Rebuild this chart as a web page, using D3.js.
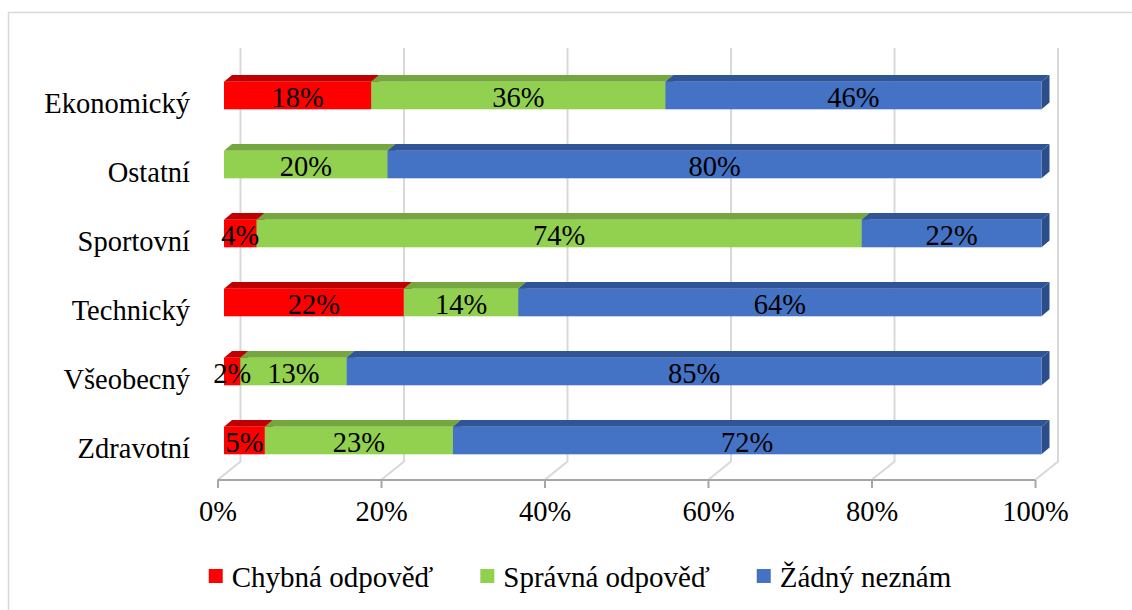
<!DOCTYPE html>
<html>
<head>
<meta charset="utf-8">
<script src="https://cdn.jsdelivr.net/npm/d3@7"></script>
<style>
  html, body { margin: 0; padding: 0; background: #ffffff; }
  svg { display: block; }
</style>
</head>
<body>
<svg id="chart" width="1132" height="610"></svg>
<script>
// Categories (top to bottom) and the three answer shares in percent
const categories = ["Ekonomický", "Ostatní", "Sportovní", "Technický", "Všeobecný", "Zdravotní"];
const seriesNames = ["Chybná odpověď", "Správná odpověď", "Žádný neznám"];
const chybna  = [18, 0, 4, 22, 2, 5];
const spravna = [36, 20, 74, 14, 13, 23];
const zadny   = [46, 80, 22, 64, 85, 72];
const tickValues = [0, 20, 40, 60, 80, 100];

// Face colours per series: front, top, right side
const frontColors = ["#ff0000", "#92d050", "#4472c4"];
const topColors   = ["#c00000", "#76a640", "#2f5597"];
const sideColors  = ["#a80000", "#658f36", "#2b4d8a"];

const FONT = "'Liberation Serif', 'Times New Roman', 'DejaVu Serif', serif";

const svg = d3.select("#chart").style("font-family", FONT);
const W = 1132, H = 610;

// Outer chart frame
svg.append("rect")
  .attr("x", 8.5).attr("y", 12.5)
  .attr("width", W + 20).attr("height", H + 20)
  .attr("fill", "#fff").attr("stroke", "#d9d9d9").attr("stroke-width", 1.5);

// Projection: front floor plane, back wall, and bar slab depth
const wallDX = 23, wallDY = -18.5;      // full depth of the plot box
const barDX0 = 6.5, barDY0 = -5.2;      // bar front face offset from the front plane
const barDX = 8, barDY = -6.7;          // bar thickness in depth
const floorY = 480, wallTop = 48;

const x = d3.scaleLinear().domain([0, 100]).range([217.5, 1035]);
const y = d3.scaleBand().domain(categories).range([66.2, 480.2]).paddingInner(0.6).paddingOuter(0.3);

// Back wall gridlines with floor diagonals
const grid = svg.append("g");
tickValues.forEach(t => {
  const fx = x(t), bx = fx + wallDX, by = floorY + wallDY;
  grid.append("path")
    .attr("d", `M${bx},${wallTop} L${bx},${by} L${fx},${floorY}`)
    .attr("fill", "none").attr("stroke", "#d9d9d9").attr("stroke-width", 2);
});

// Value axis at the front of the floor
const axisG = svg.append("g").attr("transform", `translate(0,${floorY})`);
const axis = d3.axisBottom(x).tickValues(tickValues).tickSize(8).tickPadding(13)
  .tickFormat(d => d + "%");
axisG.call(axis);
axisG.attr("font-family", null).style("font-family", FONT);
axisG.select(".domain").attr("stroke", "#a6a6a6").attr("stroke-width", 2)
  .attr("d", `M${x(0)},0H${x(100)}`);
axisG.selectAll(".tick line").attr("stroke", "#a6a6a6").attr("stroke-width", 2);
axisG.selectAll(".tick text")
  .style("font-family", FONT)
  .attr("font-size", "28.5px").attr("fill", "#000");

// Stacked rows
const rows = categories.map((c, i) => {
  const vals = [chybna[i], spravna[i], zadny[i]];
  let acc = 0;
  return {
    cat: c,
    segs: vals.map((v, k) => { const s = { k, v, x0: acc, x1: acc + v }; acc += v; return s; })
  };
});

const bars = svg.append("g");
const labels = svg.append("g").style("font-family", FONT);
rows.forEach(row => {
  const top = y(row.cat) + barDY0;
  const h = y.bandwidth();
  const g = bars.append("g");
  row.segs.filter(s => s.v > 0).forEach(s => {
    const xa = x(s.x0) + barDX0, xb = x(s.x1) + barDX0;
    // right side face
    g.append("path")
      .attr("d", `M${xb},${top} L${xb + barDX},${top + barDY} L${xb + barDX},${top + h + barDY} L${xb},${top + h} Z`)
      .attr("fill", sideColors[s.k]);
    // top face
    g.append("path")
      .attr("d", `M${xa},${top} L${xa + barDX},${top + barDY} L${xb + barDX},${top + barDY} L${xb},${top} Z`)
      .attr("fill", topColors[s.k]);
    // front face
    g.append("rect")
      .attr("x", xa).attr("y", top).attr("width", xb - xa).attr("height", h)
      .attr("fill", frontColors[s.k]);
  });
  row.segs.filter(s => s.v > 0).forEach(s => {
    const xa = x(s.x0) + barDX0, xb = x(s.x1) + barDX0;
    labels.append("text")
      .attr("x", (xa + xb) / 2).attr("y", top + h / 2 + 11)
      .attr("text-anchor", "middle").attr("font-size", "28.5px")
      .style("font-family", FONT).attr("fill", "#000")
      .text(s.v + "%");
  });
  // category label
  labels.append("text")
    .attr("x", 190).attr("y", y(row.cat) + h / 2 + 12)
    .attr("text-anchor", "end").attr("font-size", "28.5px")
    .style("font-family", FONT).attr("fill", "#000")
    .text(row.cat);
});

// Legend, centred below the plot
const legend = svg.append("g").style("font-family", FONT);
const sq = 14, gapText = 9, gapItem = 47, legendY = 576;
const items = seriesNames.map((name, k) => {
  const t = legend.append("text").attr("font-size", "29px").attr("y", legendY + 10.5)
    .style("font-family", FONT).attr("fill", "#000").text(name);
  return { k, t, w: t.node().getComputedTextLength() };
});
const total = d3.sum(items, d => sq + gapText + d.w) + gapItem * (items.length - 1);
let lx = 580 - total / 2;
items.forEach(it => {
  legend.append("rect").attr("x", lx).attr("y", legendY - 7).attr("width", sq).attr("height", sq)
    .attr("fill", frontColors[it.k]);
  it.t.attr("x", lx + sq + gapText);
  lx += sq + gapText + it.w + gapItem;
});
</script>
</body>
</html>
